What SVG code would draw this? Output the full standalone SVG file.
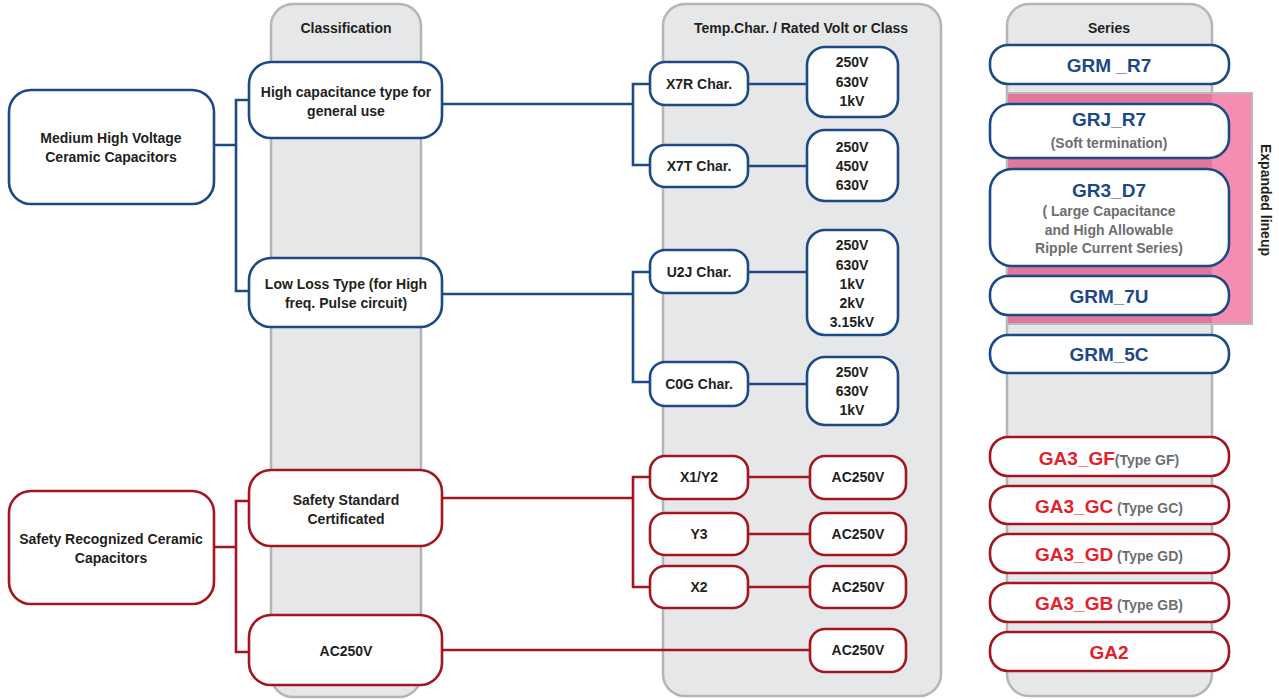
<svg xmlns="http://www.w3.org/2000/svg" width="1279" height="699" viewBox="0 0 1279 699">
<style>
text{font-family:"Liberation Sans",Arial,sans-serif;font-weight:bold;fill:#231f20;text-anchor:middle}
.col{fill:#e6e7e9;stroke:#b4b5b7;stroke-width:2.5}
.b{fill:#fff;stroke:#1c4a86;stroke-width:2.6}
.r{fill:#fff;stroke:#a3151f;stroke-width:2.6}
.lb{fill:none;stroke:#1c4a86;stroke-width:2.6}
.lr{fill:none;stroke:#a3151f;stroke-width:2.6}
.t{font-size:14px}
.h{font-size:14px}
.sb{font-size:19px;fill:#1c4a86}
.sr{font-size:19px;fill:#e3202b}
.g{font-size:14px;fill:#6d6e70}
</style>
<rect width="1279" height="699" fill="#fff"/>
<g id="columns">
<rect class="col" x="271" y="4" width="150" height="693" rx="22"/>
<rect class="col" x="663" y="4" width="278" height="692" rx="22"/>
<rect class="col" x="1007" y="4" width="205" height="692" rx="22"/>
<text class="h" x="346" y="33">Classification</text>
<text class="h" x="801" y="33">Temp.Char. / Rated Volt or Class</text>
<text class="h" x="1109" y="33">Series</text>
</g>
<g id="expanded">
<rect x="1007" y="93" width="245" height="231" fill="#f48db1" stroke="#b9babc" stroke-width="2"/>
<rect x="1008" y="94" width="204" height="229" fill="#df7899"/>
<text class="t" transform="translate(1261,200) rotate(90)">Expanded lineup</text>
</g>
<g id="connectors">
<path class="lb" d="M214,145H236M249,100H236V291H249"/>
<path class="lb" d="M442,104H633M650,84H633V165H650"/>
<path class="lb" d="M442,294H633M650,272H633V382H650"/>
<path class="lb" d="M748,84H807M748,166H807M748,272H807M748,384H807"/>
<path class="lr" d="M214,547H236M249,501H236V652H249"/>
<path class="lr" d="M442,498H633M650,477H633V587H650"/>
<path class="lr" d="M748,477H810M748,534H810M748,587H810M442,650H810"/>
</g>
<g id="n-mhv"><rect class="b" x="9" y="90" width="205" height="114" rx="22"/><text class="t" x="111" y="143">Medium High Voltage</text><text class="t" x="111" y="162">Ceramic Capacitors</text></g>
<g id="n-hcap"><rect class="b" x="249" y="62" width="193" height="76" rx="22"/><text class="t" x="346" y="97">High capacitance type for</text><text class="t" x="346" y="116">general use</text></g>
<g id="n-lowloss"><rect class="b" x="249" y="258" width="193" height="69" rx="22"/><text class="t" x="346" y="289">Low Loss Type (for High</text><text class="t" x="346" y="308">freq. Pulse circuit)</text></g>
<g id="n-x7r"><rect class="b" x="650" y="62" width="98" height="43" rx="15"/><text class="t" x="699" y="89">X7R Char.</text></g>
<g id="n-x7t"><rect class="b" x="650" y="145" width="98" height="42" rx="15"/><text class="t" x="699" y="171">X7T Char.</text></g>
<g id="n-u2j"><rect class="b" x="650" y="250" width="98" height="43" rx="15"/><text class="t" x="699" y="277">U2J Char.</text></g>
<g id="n-c0g"><rect class="b" x="650" y="362" width="98" height="44" rx="15"/><text class="t" x="699" y="389">C0G Char.</text></g>
<g id="n-v1"><rect class="b" x="807" y="47" width="91" height="70" rx="18"/><text class="t" x="852" y="67">250V</text><text class="t" x="852" y="87">630V</text><text class="t" x="852" y="106">1kV</text></g>
<g id="n-v2"><rect class="b" x="807" y="130" width="91" height="71" rx="18"/><text class="t" x="852" y="152">250V</text><text class="t" x="852" y="171">450V</text><text class="t" x="852" y="190">630V</text></g>
<g id="n-v3"><rect class="b" x="807" y="230" width="91" height="105" rx="18"/><text class="t" x="852" y="250">250V</text><text class="t" x="852" y="270">630V</text><text class="t" x="852" y="289">1kV</text><text class="t" x="852" y="308">2kV</text><text class="t" x="852" y="327">3.15kV</text></g>
<g id="n-v4"><rect class="b" x="807" y="357" width="91" height="68" rx="18"/><text class="t" x="852" y="377">250V</text><text class="t" x="852" y="396">630V</text><text class="t" x="852" y="415">1kV</text></g>
<g id="n-safety"><rect class="r" x="9" y="491" width="205" height="113" rx="22"/><text class="t" x="111" y="544">Safety Recognized Ceramic</text><text class="t" x="111" y="563">Capacitors</text></g>
<g id="n-ssc"><rect class="r" x="249" y="470" width="193" height="76" rx="22"/><text class="t" x="346" y="505">Safety Standard</text><text class="t" x="346" y="524">Certificated</text></g>
<g id="n-ac-cls"><rect class="r" x="249" y="615" width="193" height="70" rx="22"/><text class="t" x="346" y="656">AC250V</text></g>
<g id="n-x1y2"><rect class="r" x="650" y="456" width="98" height="43" rx="15"/><text class="t" x="699" y="482">X1/Y2</text></g>
<g id="n-y3"><rect class="r" x="650" y="513" width="98" height="42" rx="15"/><text class="t" x="699" y="539">Y3</text></g>
<g id="n-x2"><rect class="r" x="650" y="566" width="98" height="42" rx="15"/><text class="t" x="699" y="592">X2</text></g>
<g id="n-ac1"><rect class="r" x="810" y="456" width="96" height="43" rx="15"/><text class="t" x="858" y="482">AC250V</text></g>
<g id="n-ac2"><rect class="r" x="810" y="513" width="96" height="42" rx="15"/><text class="t" x="858" y="539">AC250V</text></g>
<g id="n-ac3"><rect class="r" x="810" y="566" width="96" height="42" rx="15"/><text class="t" x="858" y="592">AC250V</text></g>
<g id="n-ac4"><rect class="r" x="810" y="629" width="96" height="43" rx="15"/><text class="t" x="858" y="655">AC250V</text></g>
<g id="s-grmr7"><rect class="b" x="990" y="45" width="239" height="39" rx="18"/><text class="sb" x="1109" y="72">GRM _R7</text></g>
<g id="s-grjr7"><rect class="b" x="990" y="104" width="239" height="54" rx="20"/><text class="sb" x="1109" y="126">GRJ_R7</text><text class="g" x="1109" y="148">(Soft termination)</text></g>
<g id="s-gr3d7"><rect class="b" x="990" y="169" width="239" height="97" rx="22"/><text class="sb" x="1109" y="197">GR3_D7</text><text class="g" x="1109" y="216">( Large Capacitance</text><text class="g" x="1109" y="235">and High Allowable</text><text class="g" x="1109" y="253">Ripple Current Series)</text></g>
<g id="s-grm7u"><rect class="b" x="990" y="276" width="239" height="39" rx="18"/><text class="sb" x="1109" y="303">GRM_7U</text></g>
<g id="s-grm5c"><rect class="b" x="990" y="335" width="239" height="38" rx="18"/><text class="sb" x="1109" y="361">GRM_5C</text></g>
<g id="s-gf"><rect class="r" x="990" y="437" width="239" height="39" rx="18"/><text x="1109" y="465"><tspan class="sr">GA3_GF</tspan><tspan class="g">(Type GF)</tspan></text></g>
<g id="s-gc"><rect class="r" x="990" y="486" width="239" height="38" rx="18"/><text x="1109" y="513"><tspan class="sr">GA3_GC</tspan><tspan class="g"> (Type GC)</tspan></text></g>
<g id="s-gd"><rect class="r" x="990" y="534" width="239" height="39" rx="18"/><text x="1109" y="561"><tspan class="sr">GA3_GD</tspan><tspan class="g"> (Type GD)</tspan></text></g>
<g id="s-gb"><rect class="r" x="990" y="583" width="239" height="39" rx="18"/><text x="1109" y="610"><tspan class="sr">GA3_GB</tspan><tspan class="g"> (Type GB)</tspan></text></g>
<g id="s-ga2"><rect class="r" x="990" y="632" width="239" height="39" rx="18"/><text class="sr" x="1109" y="659">GA2</text></g>
</svg>
